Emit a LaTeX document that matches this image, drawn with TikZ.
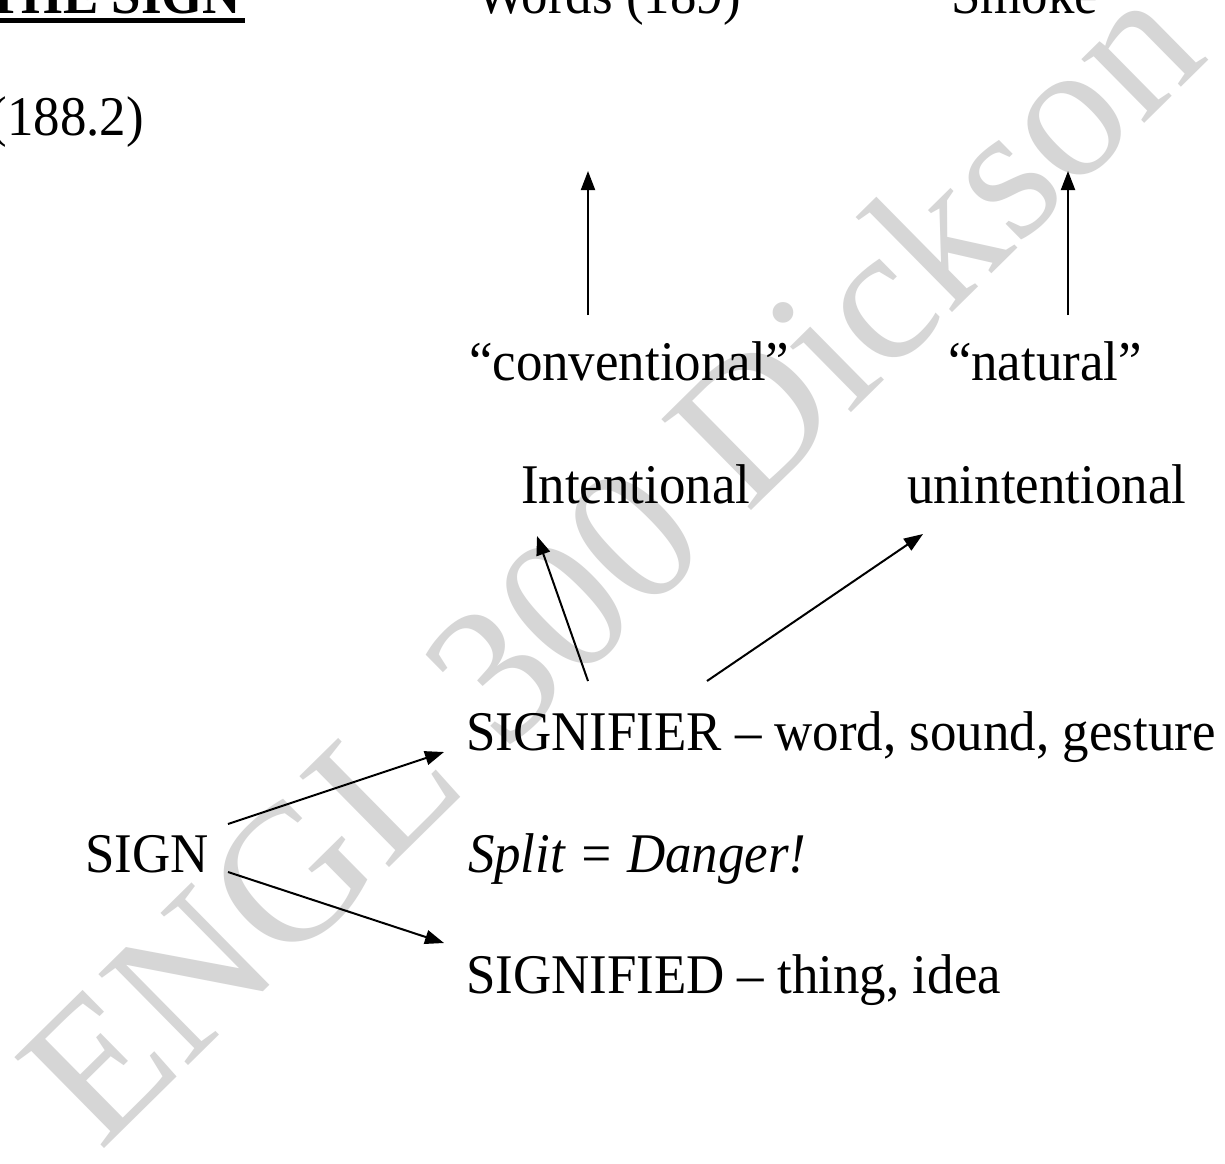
\documentclass[tikz,border=0pt]{standalone}
\usepackage{fontspec}
\setmainfont{Liberation Serif}
\usetikzlibrary{arrows.meta}
\tikzset{
  txt/.style={inner sep=0pt, outer sep=0pt, anchor=base west, font=\fontsize{56}{60}\selectfont},
  arr/.style={line width=2pt, -{Triangle[length=19pt,width=14pt]}},
  wm/.style={inner sep=0pt, anchor=base west, rotate=44.6, text=black!16, font=\fontsize{195}{200}\selectfont}
}
\newcommand{\sq}[1]{\scalebox{0.945}[1]{#1}}
\begin{document}
\begin{tikzpicture}[x=1pt,y=-1pt]
\useasboundingbox (0,0) rectangle (1225,1163);
\clip (0,0) rectangle (1225,1163);
\fill[white] (0,0) rectangle (1225,1163);
% watermark
\node[wm] (wmark) at (100,1153) {ENGL 300 Dickson};
% texts
\node[txt, anchor=base east] (title) at (241,13) {\sq{\bfseries THE SIGN}};
\draw[line width=5pt] ([yshift=-7.5pt,xshift=-40pt]title.base west) -- ([yshift=-7.5pt,xshift=4pt]title.base east);
\node[txt, anchor=base east] (page) at (144,135) {\sq{(188.2)}};
\node[txt] (words) at (476,13) {\sq{Words (189)}};
\node[txt] (smoke) at (951,13) {\sq{Smoke}};
\node[txt] (conv) at (469,380) {\sq{“conventional”}};
\node[txt] (nat) at (948,380) {\sq{“natural”}};
\node[txt] (int) at (521,503) {\sq{Intentional}};
\node[txt] (unint) at (907,503) {\sq{unintentional}};
\node[txt] (sfier) at (466,750) {\sq{SIGNIFIER – word, sound, gesture}};
\node[txt] (sign) at (85,872) {\sq{SIGN}};
\node[txt] (split) at (468,872) {\sq{\itshape Split = Danger!}};
\node[txt] (sfied) at (466,993) {\sq{SIGNIFIED – thing, idea}};
% connector ends
\coordinate (c1) at (588,315); \coordinate (w1) at (588,171);
\coordinate (n1) at (1068,315); \coordinate (s1) at (1068,171);
\coordinate (f1) at (588,681); \coordinate (i1) at (537,536);
\coordinate (f2) at (707,681); \coordinate (u1) at (923,534);
\coordinate (g1) at (228,824); \coordinate (r1) at (444,752);
\coordinate (g2) at (228,872); \coordinate (d1) at (444,943);
% arrows
\draw[arr] (c1) -- (w1);
\draw[arr] (n1) -- (s1);
\draw[arr] (f1) -- (i1);
\draw[arr] (f2) -- (u1);
\draw[arr] (g1) -- (r1);
\draw[arr] (g2) -- (d1);
\end{tikzpicture}
\end{document}
